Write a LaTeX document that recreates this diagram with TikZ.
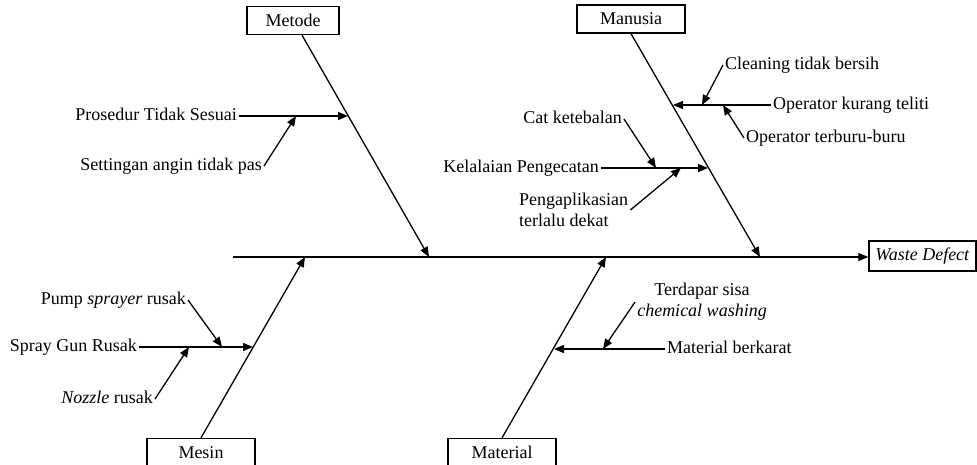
\documentclass[tikz,border=0pt]{standalone}
\usepackage{fontspec}
\setmainfont{Liberation Serif}
\usetikzlibrary{arrows.meta}
\tikzstyle{arrow} = [line width=1.3pt,-{Triangle[length=10pt,width=8pt]}]
\tikzstyle{bonearrow} = [line width=1.3pt,-{Triangle[length=10pt,width=8pt]}]
\tikzstyle{category} = [rectangle, minimum width=108pt, minimum height=28pt, inner sep=0pt, text centered, draw=black, line width=1.3pt]
\tikzstyle{cause} = [inner sep=2pt, text height=12.5pt, text depth=4pt]
\tikzstyle{cause2} = [inner sep=2pt]

\begin{document}
\begin{tikzpicture}[x=1pt, y=-1pt, font=\fontsize{18}{21}\selectfont]
\clip (0,0) rectangle (977,465);

\node (metode) [category, minimum width=92pt] at (293,20.5) {Metode};
\node (manusia) [category] at (631,19) {Manusia};
\node (mesin) [category] at (201,452.5) {Mesin};
\node (material) [category] at (502,452.5) {Material};
\node (wd) [category, minimum width=107pt, minimum height=30pt] at (922.5,256) {\textit{Waste Defect}};

% metode
\node (prosedur) [cause, anchor=east] at (239,116) {Prosedur Tidak Sesuai};
\node (settingan) [cause, anchor=east] at (264,166) {Settingan angin tidak pas};
% manusia
\node (cleaning) [cause, anchor=west] at (723,65) {Cleaning tidak bersih};
\node (kurang) [cause, anchor=west] at (771,105) {Operator kurang teliti};
\node (terburu) [cause, anchor=west] at (744,138) {Operator terburu-buru};
\node (cat) [cause, anchor=east] at (624,119) {Cat ketebalan};
\node (kelalaian) [cause, anchor=east] at (601,168) {Kelalaian Pengecatan};
\node (aplikasi) [cause2, anchor=west, align=left] at (517,210) {Pengaplikasian\\terlalu dekat};
% mesin
\node (pump) [cause, anchor=east] at (188,300) {Pump \textit{sprayer} rusak};
\node (spraygun) [cause, anchor=east] at (139,347) {Spray Gun Rusak};
\node (nozzle) [cause, anchor=east] at (155,399) {\textit{Nozzle} rusak};
% material
\node (terdapar) [cause2, align=center] at (702,302) {Terdapar sisa\\\textit{chemical washing}};
\node (berkarat) [cause, anchor=west] at (665,349) {Material berkarat};

\node[coordinate] (tail) at (233,257) {};
\node[coordinate] (s_metode) at (429,257) {};
\node[coordinate] (s_manusia) at (760,257) {};
\node[coordinate] (s_mesin) at (305,257) {};
\node[coordinate] (s_material) at (606,257) {};

\node[coordinate] (b_prosedur) at (348,116) {};
\node[coordinate] (b_settingan) at (296,116) {};
\node[coordinate] (b_kurang) at (673,105) {};
\node[coordinate] (b_cleaning) at (702,105) {};
\node[coordinate] (b_terburu) at (723,105) {};
\node[coordinate] (b_kelalaian) at (708,168) {};
\node[coordinate] (b_cat) at (656,168) {};
\node[coordinate] (b_aplikasi) at (681,168) {};
\node[coordinate] (b_spraygun) at (253,347) {};
\node[coordinate] (b_pump) at (222,347) {};
\node[coordinate] (b_nozzle) at (189,347) {};
\node[coordinate] (b_berkarat) at (554,349) {};
\node[coordinate] (b_terdapar) at (603,349) {};

\draw [bonearrow] (tail) -- (tail -| wd.west);
\draw [bonearrow] ([xshift=9pt]metode.south) -- (s_metode);
\draw [bonearrow] (manusia.south) -- (s_manusia);
\draw [bonearrow] (mesin.north) -- (s_mesin);
\draw [bonearrow] (material.north) -- (s_material);

\draw [arrow] (prosedur.east) -- (b_prosedur);
\draw [arrow] (settingan.east) -- (b_settingan);
\draw [arrow] (kurang.west) -- (b_kurang);
\draw [arrow] (cleaning.west) -- (b_cleaning);
\draw [arrow] (terburu.west) -- (b_terburu);
\draw [arrow] (kelalaian.east) -- (b_kelalaian);
\draw [arrow] (cat.east) -- (b_cat);
\draw [arrow] (aplikasi.east) -- (b_aplikasi);
\draw [arrow] (spraygun.east) -- (b_spraygun);
\draw [arrow] (pump.east) -- (b_pump);
\draw [arrow] (nozzle.east) -- (b_nozzle);
\draw [arrow] (berkarat.west) -- (b_berkarat);
\draw [arrow] (terdapar.west) -- (b_terdapar);
\end{tikzpicture}
\end{document}
